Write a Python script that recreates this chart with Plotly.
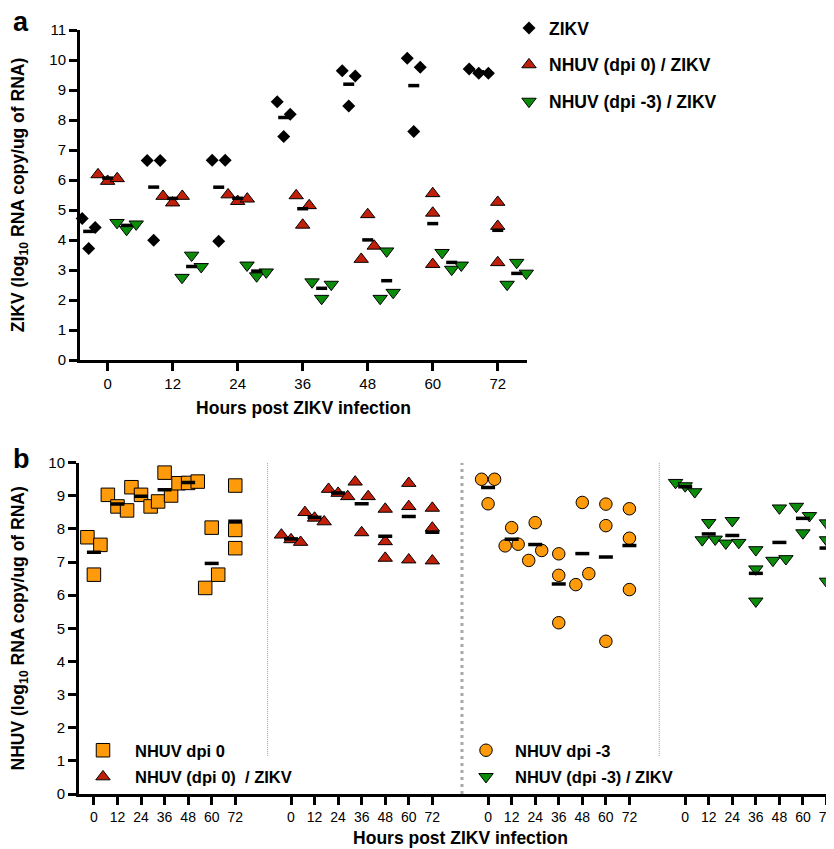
import numpy as np
import plotly.graph_objects as go

# ---------------- data ----------------
HOURS = [0, 12, 24, 36, 48, 60, 72]

# Panel a: ZIKV RNA, log10 copies / ug RNA (3 replicates per time point)
A_ZIKV = [[4.72, 3.72, 4.42], [6.65, 3.99, 6.65], [6.66, 3.96, 6.66], [8.61, 7.45, 8.19],
          [9.64, 8.47, 9.47], [10.06, 7.62, 9.76], [9.70, 9.56, 9.56]]
A_D0_ZIKV = [[6.18, 5.96, 6.05], [5.46, 5.24, 5.46], [5.51, 5.29, 5.37], [4.50, 5.48, 5.15],
             [4.85, 3.36, 3.80], [5.55, 4.90, 3.19], [5.26, 4.46, 3.25]]
A_D3_ZIKV = [[4.58, 4.35, 4.53], [2.75, 3.49, 3.11], [3.16, 2.80, 2.93], [2.60, 2.05, 2.52],
             [3.63, 2.05, 2.25], [3.58, 3.02, 3.16], [2.52, 3.25, 2.89]]

# Panel b: NHUV RNA, log10 copies / ug RNA
B_D0 = [[7.75, 6.62, 7.52], [9.03, 8.68, 8.56], [9.26, 9.03, 8.68], [8.83, 9.70, 9.01],
        [9.38, 9.39, 9.43], [8.04, 6.22, 6.62], [9.31, 7.42, 7.97]]
B_D0_ZIKV = [[7.82, 7.68, 7.60], [8.50, 8.33, 8.22], [9.20, 9.08, 8.98], [9.42, 7.89, 8.98],
             [8.60, 7.12, 7.62], [9.38, 8.68, 7.07], [8.63, 8.03, 7.04]]
B_D3 = [[9.50, 8.76, 9.50], [8.04, 7.49, 7.54], [8.19, 7.05, 7.35], [7.25, 6.60, 5.17],
        [8.80, 6.32, 6.65], [8.75, 8.10, 4.61], [8.61, 7.72, 6.17]]
B_D3_ZIKV = [[9.40, 9.30, 9.12], [8.19, 7.67, 7.69], [8.25, 7.57, 7.59], [7.37, 6.79, 5.82],
             [8.63, 7.05, 7.10], [8.68, 8.40, 7.88], [8.18, 7.67, 6.42]]

NAMES_A = ["ZIKV", "NHUV (dpi 0) / ZIKV", "NHUV (dpi -3) / ZIKV"]
NAMES_B = ["NHUV dpi 0", "NHUV (dpi 0) \u00a0/ ZIKV", "NHUV dpi -3", "NHUV (dpi -3) / ZIKV"]

# ---------------- style / layout ----------------
BLACK = "#000000"
RED = "#C0200A"
GREEN = "#0B8C0B"
ORANGE = "#FF9A0A"
FONT = "Arial, Liberation Sans, sans-serif"

W, H = 834, 849
OFF = 8  # the page places the figure 8 px from its top-left corner


def px(v):
    return v - OFF


A_XRANGE = [-5.1, 77.4]
A_XDOM = [px(80) / W, px(527) / W]
A_YDOM = [1 - px(360) / H, 1 - px(30) / H]
B_XDOM = [px(79) / W, 1.0]
B_YDOM = [1 - px(794) / H, 1 - px(462.7) / H]
A_PXH = (A_XDOM[1] - A_XDOM[0]) * W / (A_XRANGE[1] - A_XRANGE[0])
B_PXH = 1.963
B_XRANGE = [-7.6, -7.6 + (B_XDOM[1] - B_XDOM[0]) * W / B_PXH]
A_GROUP_SHIFT = [-3.5, 0.0, 3.5]   # hours, within each time point
B_SEG = 100.4                       # hours between the four blocks of panel b
B_DIVIDERS = [88.5, 187.5, 288.0]


def spread(vals, thr, pxh):
    """Prism-like horizontal spreading of overlapping points (x offsets in hours)."""
    n = len(vals)
    order = np.argsort(vals)
    clusters, cur = [], [order[0]]
    for a, b in zip(order[:-1], order[1:]):
        if vals[b] - vals[a] < thr:
            cur.append(b)
        else:
            clusters.append(cur)
            cur = [b]
    clusters.append(cur)
    off = np.zeros(n)
    for c in clusters:
        c = sorted(c)
        k = len(c)
        step = 13.0 if k == 2 else 9.6
        for j, idx in enumerate(c):
            off[idx] = (j - (k - 1) / 2) * step / pxh
    return off


def build(series, centers, thr, pxh, barw):
    xs, ys, bx, by = [], [], [], []
    for vals, c in zip(series, centers):
        off = spread(vals, thr, pxh)
        xs += list(c + off)
        ys += list(vals)
        m = float(np.mean(vals))
        bx += [c - barw / 2, c + barw / 2, None]
        by += [m, m, None]
    return xs, ys, bx, by


fig = go.Figure()

# ---- panel a ----
a_series = [A_ZIKV, A_D0_ZIKV, A_D3_ZIKV]
a_style = [dict(symbol="diamond", size=10, color=BLACK, line=dict(color=BLACK, width=0)),
           dict(symbol="triangle-up", size=12.5, color=RED, line=dict(color=BLACK, width=1)),
           dict(symbol="triangle-down", size=12.5, color=GREEN, line=dict(color=BLACK, width=1))]
bars_a = []
for i, ser in enumerate(a_series):
    centers = [h + A_GROUP_SHIFT[i] for h in HOURS]
    xs, ys, bx, by = build(ser, centers, 0.5, A_PXH, 11 / A_PXH)
    fig.add_trace(go.Scatter(x=xs, y=ys, mode="markers", marker=a_style[i], name=NAMES_A[i],
                             xaxis="x", yaxis="y", legend="legend", legendgroup="a%d" % i,
                             cliponaxis=False))
    bars_a.append(go.Scatter(x=bx, y=by, mode="lines", line=dict(color=BLACK, width=3.5),
                             xaxis="x", yaxis="y", showlegend=False, hoverinfo="skip"))
for t in bars_a:
    fig.add_trace(t)

# ---- panel b ----
b_series = [B_D0, B_D0_ZIKV, B_D3, B_D3_ZIKV]
b_style = [dict(symbol="square", size=13.5, color=ORANGE, line=dict(color=BLACK, width=1)),
           dict(symbol="triangle-up", size=12.5, color=RED, line=dict(color=BLACK, width=1)),
           dict(symbol="circle", size=12.5, color=ORANGE, line=dict(color=BLACK, width=1)),
           dict(symbol="triangle-down", size=12.5, color=GREEN, line=dict(color=BLACK, width=1))]
b_leg = ["legend2", "legend2", "legend3", "legend3"]
for s, ser in enumerate(b_series):
    centers = [s * B_SEG + h for h in HOURS]
    xs, ys, bx, by = build(ser, centers, 0.45, B_PXH, 14 / B_PXH)
    fig.add_trace(go.Scatter(x=xs, y=ys, mode="markers", marker=b_style[s], name=NAMES_B[s],
                             xaxis="x2", yaxis="y2", legend=b_leg[s], legendgroup="b%d" % s))
    fig.add_trace(go.Scatter(x=bx, y=by, mode="lines", line=dict(color=BLACK, width=3.5),
                             xaxis="x2", yaxis="y2", showlegend=False, hoverinfo="skip"))

# dividers in panel b
for k, xd in enumerate(B_DIVIDERS):
    if k == 1:
        fig.add_shape(type="line", xref="x2", yref="y2", x0=xd, x1=xd, y0=0, y1=10,
                      line=dict(color="#A8A8A8", width=3, dash="3px,4px"), layer="below")
    else:
        fig.add_shape(type="line", xref="x2", yref="y2", x0=xd, x1=xd, y0=1.15, y1=10,
                      line=dict(color="#9A9A9A", width=1, dash="1px,1px"), layer="below")

axis_common = dict(showline=True, linewidth=3, linecolor=BLACK, ticks="outside", ticklen=8,
                   tickwidth=3, tickcolor=BLACK, showgrid=False, zeroline=False, automargin=False,
                   tickfont=dict(size=15, family=FONT, color=BLACK))

b_tickvals = [s * B_SEG + h for s in range(4) for h in HOURS]
b_ticktext = [str(h) for s in range(4) for h in HOURS]

TITLE_FONT = dict(size=17.5, family=FONT, color=BLACK)

fig.update_layout(
    width=W, height=H, margin=dict(l=0, r=0, t=0, b=0, pad=0, autoexpand=False),
    paper_bgcolor="white", plot_bgcolor="white",
    font=dict(family=FONT, size=14, color=BLACK),
    xaxis=dict(axis_common, domain=A_XDOM, range=A_XRANGE, tickvals=HOURS, anchor="y",
               title=dict(text="<b>Hours post ZIKV infection</b>", font=TITLE_FONT, standoff=11)),
    yaxis=dict(axis_common, domain=A_YDOM, range=[0, 11], tickvals=list(range(12)), anchor="x",
               title=dict(text="<b>ZIKV (log<sub>10</sub> RNA copy/ug of RNA)</b>",
                          font=TITLE_FONT, standoff=24)),
    xaxis2=dict(axis_common, domain=B_XDOM, range=B_XRANGE, tickvals=b_tickvals,
                ticktext=b_ticktext, anchor="y2", tickfont=dict(size=14, family=FONT, color=BLACK),
                title=dict(text="<b>Hours post ZIKV infection</b>", font=TITLE_FONT, standoff=8)),
    yaxis2=dict(axis_common, domain=B_YDOM, range=[0, 10], tickvals=list(range(11)), anchor="x2",
                title=dict(text="<b>NHUV (log<sub>10</sub> RNA copy/ug of RNA)</b>",
                           font=TITLE_FONT, standoff=23)),
    legend=dict(x=px(509) / W, y=1 - px(10) / H, xanchor="left", yanchor="top",
                bgcolor="rgba(0,0,0,0)", font=dict(size=17.5, family=FONT, weight="bold"),
                traceorder="grouped", tracegroupgap=11, itemwidth=30),
    legend2=dict(x=px(71) / W, y=1 - px(733) / H, xanchor="left", yanchor="top",
                 bgcolor="rgba(0,0,0,0)", font=dict(size=16.5, family=FONT, weight="bold"),
                 traceorder="grouped", tracegroupgap=2, itemwidth=54),
    legend3=dict(x=px(457) / W, y=1 - px(733) / H, xanchor="left", yanchor="top",
                 bgcolor="rgba(0,0,0,0)", font=dict(size=16.5, family=FONT, weight="bold"),
                 traceorder="grouped", tracegroupgap=2, itemwidth=48),
    annotations=[
        dict(text="<b>a</b>", x=px(11) / W, y=1 - px(22) / H, xref="paper", yref="paper",
             xanchor="left", yanchor="middle", showarrow=False, font=dict(size=27, family=FONT)),
        dict(text="<b>b</b>", x=px(11) / W, y=1 - px(459) / H, xref="paper", yref="paper",
             xanchor="left", yanchor="middle", showarrow=False, font=dict(size=27, family=FONT)),
    ],
)

fig.write_html("out.html")
